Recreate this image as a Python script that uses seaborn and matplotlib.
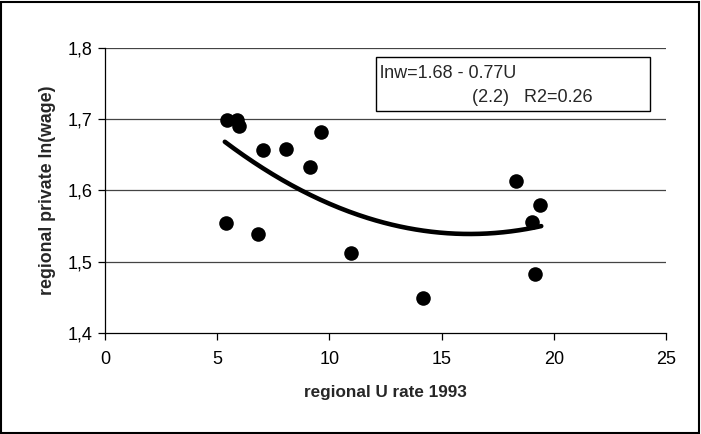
import numpy as np
import pandas as pd
import matplotlib
matplotlib.use("Agg")
import matplotlib.pyplot as plt
import seaborn as sns
from matplotlib.patches import Rectangle

# regional unemployment rate 1993 vs regional private ln(wage)
u_rate = [5.44, 5.88, 5.97, 7.04, 8.07, 9.14, 9.63, 5.39, 6.82, 10.96, 14.17, 18.32, 19.39, 19.03, 19.16]
ln_wage = [1.699, 1.699, 1.691, 1.657, 1.658, 1.633, 1.682, 1.554, 1.539, 1.512, 1.449, 1.613, 1.579, 1.556, 1.483]

x_ticks = [0, 5, 10, 15, 20, 25]
y_ticks = [1.4, 1.5, 1.6, 1.7, 1.8]
y_tick_labels = ["1,4", "1,5", "1,6", "1,7", "1,8"]

df = pd.DataFrame({"u": u_rate, "lnw": ln_wage})

sns.set_style("white")
plt.rcParams["font.family"] = ["Liberation Sans", "DejaVu Sans"]

fig = plt.figure(figsize=(7.01, 4.34), dpi=100)
ax = fig.add_axes([105 / 701, 1 - 333 / 434, (666 - 105) / 701, (333 - 48) / 434])

# horizontal gridlines
for yv in y_ticks[1:]:
    ax.axhline(yv, color="#444444", lw=0.9, zorder=0)

sns.scatterplot(data=df, x="u", y="lnw", ax=ax, color="black", s=110,
                edgecolor="black", linewidth=0, zorder=3)

# polynomial trend line (degree 2)
coef = np.polyfit(df["u"], df["lnw"], 2)
xs = np.linspace(df["u"].min() - 0.05, df["u"].max() + 0.05, 200)
sns.lineplot(x=xs, y=np.polyval(coef, xs), ax=ax, color="black", lw=3.3, zorder=4)

ax.set_xlim(0, 25)
ax.set_ylim(1.4, 1.8)
ax.set_xticks(x_ticks)
ax.set_yticks(y_ticks)
ax.set_yticklabels(y_tick_labels)
ax.tick_params(axis="both", direction="out", length=5, width=0.9, colors="black",
               labelsize=13, left=True, bottom=True)
ax.tick_params(axis="y", pad=4)
ax.tick_params(axis="x", pad=8)

for side in ["top", "right"]:
    ax.spines[side].set_visible(False)
for side in ["left", "bottom"]:
    ax.spines[side].set_color("black")
    ax.spines[side].set_linewidth(0.9)

ax.set_xlabel("regional U rate 1993", fontsize=12.3, fontweight="bold", labelpad=12)
ax.set_ylabel("regional private ln(wage)", fontsize=12.8, fontweight="bold", labelpad=8)

# equation box
box = Rectangle((376 / 701, 1 - 111 / 434), (650 - 376) / 701, (111 - 57) / 434,
                transform=fig.transFigure, facecolor="white", edgecolor="black",
                lw=1, zorder=5)
fig.patches.append(box)
fig.text(380 / 701, 1 - 73 / 434, "lnw=1.68 - 0.77U", fontsize=13, va="center",
         ha="left", zorder=6)
fig.text(472 / 701, 1 - 97 / 434, "(2.2)   R2=0.26", fontsize=13, va="center",
         ha="left", zorder=6)

# outer frame
frame = Rectangle((0.002, 0.003), 0.995, 0.993, transform=fig.transFigure,
                  facecolor="none", edgecolor="black", lw=1.5)
fig.patches.append(frame)

fig.savefig("out.png", dpi=100)
